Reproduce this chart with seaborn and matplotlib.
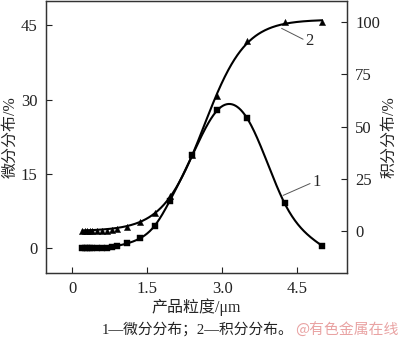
import numpy as np
import pandas as pd
import matplotlib
matplotlib.use("Agg")
import matplotlib.pyplot as plt
import seaborn as sns

# Particle size (µm) and measured distributions
size = [0.2, 0.25, 0.3, 0.35, 0.4, 0.5, 0.6, 0.7, 0.8, 0.9, 1.1, 1.35, 1.65, 1.95, 2.4, 2.9, 3.5, 4.25, 5.0]
differential = [0, 0, 0, 0, 0, 0, 0, 0.05, 0.2, 0.4, 0.9, 1.9, 4.5, 9.5, 18.7, 27.8, 26.2, 9.0, 0.4]
cumulative = [0, 0, 0, 0, 0, 0, 0, 0.1, 0.3, 0.8, 1.8, 4.3, 8.6, 17.0, 36.5, 64.8, 90.8, 100.0, 100.0]

x_ticks = [0, 1.5, 3.0, 4.5]
x_tick_labels = ["0", "1.5", "3.0", "4.5"]
left_ticks = [0, 15, 30, 45]
right_ticks = [0, 25, 50, 75, 100]


def natural_spline(x, y, xs):
    x = np.asarray(x, float); y = np.asarray(y, float)
    n = len(x); h = np.diff(x)
    A = np.zeros((n, n)); b = np.zeros(n)
    A[0, 0] = A[-1, -1] = 1.0
    for i in range(1, n - 1):
        A[i, i - 1] = h[i - 1]
        A[i, i] = 2 * (h[i - 1] + h[i])
        A[i, i + 1] = h[i]
        b[i] = 3 * ((y[i + 1] - y[i]) / h[i] - (y[i] - y[i - 1]) / h[i - 1])
    c = np.linalg.solve(A, b)
    idx = np.clip(np.searchsorted(x, xs) - 1, 0, n - 2)
    hi = h[idx]
    bb = (y[idx + 1] - y[idx]) / hi - hi * (2 * c[idx] + c[idx + 1]) / 3
    d = (c[idx + 1] - c[idx]) / (3 * hi)
    t = xs - x[idx]
    return y[idx] + bb * t + c[idx] * t ** 2 + d * t ** 3


def sigmoid_fit(x, y, xs):
    """Least-squares S-curve (logistic) through the cumulative points."""
    x = np.asarray(x, float); y = np.asarray(y, float)
    best = None
    for x0 in np.linspace(2.0, 3.5, 151):
        for s in np.linspace(0.2, 0.8, 121):
            g = 1.0 / (1.0 + np.exp(-(x - x0) / s))
            amp = np.dot(g, y) / np.dot(g, g)
            err = np.sum((amp * g - y) ** 2)
            if best is None or err < best[0]:
                best = (err, x0, s, amp)
    _, x0, s, amp = best
    return amp / (1.0 + np.exp(-(xs - x0) / s))


xs = np.linspace(size[0], size[-1], 400)
curve1 = pd.DataFrame({"x": xs, "y": natural_spline(size, differential, xs)})
curve2 = pd.DataFrame({"x": xs, "y": sigmoid_fit(size, cumulative, xs)})
pts = pd.DataFrame({"x": size, "d": differential, "c": cumulative})

sns.set_style("ticks")
serif = ["Liberation Serif", "Noto Sans CJK SC"]
plt.rcParams["font.family"] = serif

fig = plt.figure(figsize=(4.0, 3.41), dpi=100)
ax = fig.add_axes([0.115, 0.1994, 0.7525, 0.7986])
ax2 = ax.twinx()

sns.lineplot(data=curve1, x="x", y="y", ax=ax, color="black", lw=1.5)
sns.scatterplot(data=pts, x="x", y="d", ax=ax, marker="s", s=18, color="black",
                edgecolor="black", linewidth=0.3, zorder=3)
sns.lineplot(data=curve2, x="x", y="y", ax=ax2, color="black", lw=1.5)
sns.scatterplot(data=pts, x="x", y="c", ax=ax2, marker="^", s=20, color="black",
                edgecolor="black", linewidth=0.3, zorder=3)

ax.set_xlim(-0.53, 5.5)
ax.set_ylim(-5.1, 50.0)
ax2.set_ylim(-20.1, 110.3)
ax.set_xticks(x_ticks)
ax.set_xticklabels(x_tick_labels)
ax.set_yticks(left_ticks)
ax2.set_yticks(right_ticks)

for a in (ax, ax2):
    a.tick_params(direction="in", length=4, width=0.8, labelsize=12, colors="#222222",
                  pad=6)
    for sp in a.spines.values():
        sp.set_color("#333333")
        sp.set_linewidth(0.9)

ax.set_xlabel("产品粒度/μm", fontsize=11.5, labelpad=1, family=serif)
ax.set_ylabel("微分分布/%", fontsize=11.5, labelpad=2, family=serif)
ax2.set_ylabel("积分分布/%", fontsize=11.5, labelpad=1, family=serif)

# Curve labels with leader lines
ax.plot([4.22, 4.76], [10.6, 13.0], color="#555555", lw=0.7)
ax.text(4.8, 13.4, "1", fontsize=12, va="center", ha="left")
ax.plot([4.19, 4.62], [44.4, 42.2], color="#555555", lw=0.7)
ax.text(4.66, 41.8, "2", fontsize=12, va="center", ha="left")

fig.text(0.494, 0.033, "1—微分分布；2—积分分布。", fontsize=10.6, ha="center", va="center",
         family=serif, color="#222222")
fig.text(0.995, 0.03, "@有色金属在线", fontsize=10.7, ha="right", va="center",
         family=["Noto Sans CJK SC"], color="#e9a3a3")

fig.savefig("out.png", dpi=100)
